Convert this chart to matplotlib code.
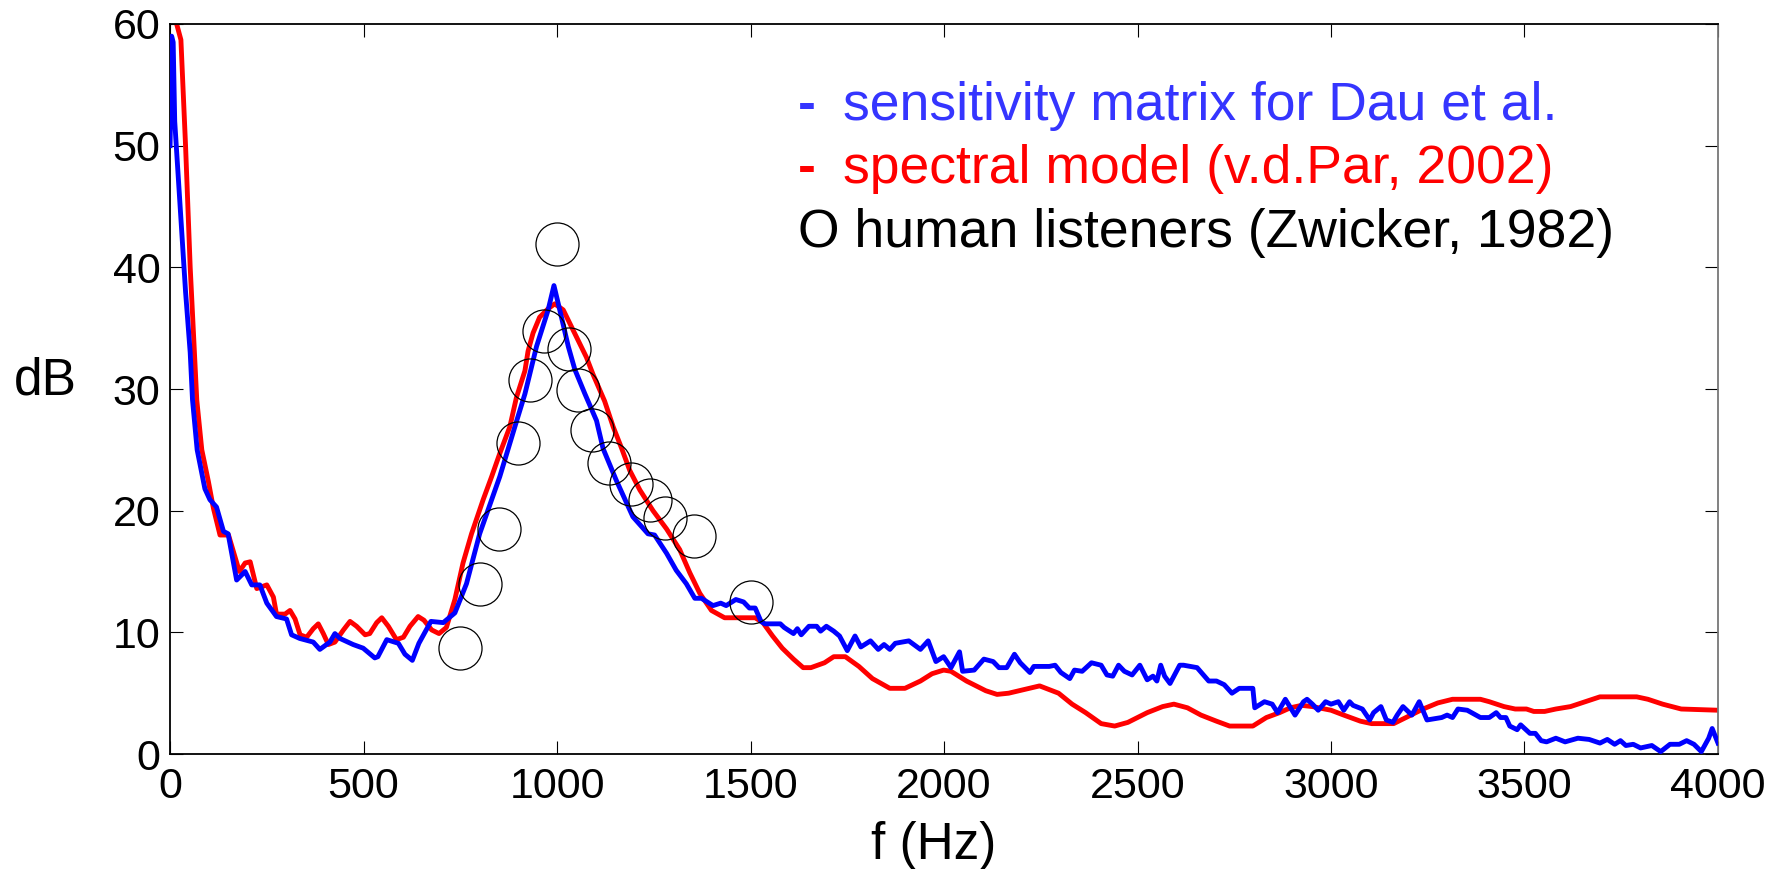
import numpy as np
import matplotlib
matplotlib.use('Agg')
import matplotlib.pyplot as plt

plt.rcParams['font.family'] = ['Liberation Sans', 'DejaVu Sans']

# sensitivity matrix for Dau et al. (blue)
f_dau = [0, 4, 8, 12, 30, 40, 52, 58, 70, 90, 103, 120, 138, 150, 172, 194, 211, 232, 250, 275,
         301, 314, 335, 370, 387, 413, 426, 439, 473, 499, 529, 537, 560, 590, 607, 626, 643, 674,
         706, 736, 766, 800, 852, 891, 917, 947, 977, 992, 1007, 1029, 1046, 1072, 1102, 1119,
         1153, 1196, 1235, 1252, 1283, 1308, 1334, 1356, 1373, 1403, 1423, 1437, 1462, 1482,
         1497, 1512, 1527, 1537, 1577, 1587, 1611, 1621, 1631, 1651, 1671, 1681, 1696, 1715,
         1730, 1750, 1770, 1785, 1810, 1830, 1845, 1860, 1874, 1909, 1939, 1959, 1979, 1999,
         2018, 2040, 2048, 2078, 2103, 2127, 2142, 2162, 2182, 2197, 2222, 2232, 2272, 2287,
         2302, 2325, 2337, 2357, 2381, 2406, 2421, 2436, 2451, 2466, 2486, 2506, 2525, 2540,
         2550, 2560, 2570, 2584, 2609, 2619, 2654, 2684, 2704, 2724, 2744, 2763, 2798, 2803,
         2828, 2848, 2862, 2882, 2907, 2929, 2938, 2952, 2967, 2986, 3000, 3019, 3033, 3048,
         3057, 3081, 3100, 3110, 3129, 3143, 3160, 3171, 3186, 3209, 3228, 3248, 3286, 3300,
         3314, 3328, 3352, 3386, 3409, 3427, 3438, 3452, 3462, 3481, 3490, 3514, 3528, 3543,
         3557, 3581, 3605, 3638, 3667, 3695, 3714, 3733, 3748, 3762, 3781, 3800, 3829, 3852,
         3876, 3900, 3919, 3938, 3957, 3976, 3985, 4000]
db_dau = [50, 59, 58.5, 52, 43, 38, 33, 29.1, 25, 21.8, 20.9, 20.3, 18.3, 18.1, 14.3, 15.0, 13.9,
          13.9, 12.4, 11.3, 11.1, 9.8, 9.5, 9.2, 8.6, 9.2, 9.9, 9.5, 9.0, 8.7, 7.9, 8.0, 9.4, 9.1,
          8.2, 7.7, 9.1, 10.9, 10.8, 11.6, 14.0, 18.1, 22.8, 26.9, 29.6, 33.5, 36.5, 38.5, 36.5,
          33.5, 31.6, 29.6, 27.4, 25.1, 22.5, 19.5, 18.1, 18.0, 16.5, 15.1, 14.0, 12.8, 12.8,
          12.2, 12.4, 12.2, 12.7, 12.5, 12.0, 12.0, 10.9, 10.7, 10.7, 10.4, 9.9, 10.3, 9.8, 10.5,
          10.5, 10.1, 10.5, 10.1, 9.7, 8.5, 9.7, 8.8, 9.3, 8.6, 9.0, 8.6, 9.1, 9.3, 8.6, 9.3, 7.6,
          8.0, 7.1, 8.4, 6.8, 6.9, 7.8, 7.6, 7.1, 7.1, 8.2, 7.5, 6.7, 7.2, 7.2, 7.3, 6.7, 6.2,
          6.9, 6.8, 7.5, 7.3, 6.5, 6.4, 7.3, 6.8, 6.5, 7.3, 6.1, 6.4, 6.0, 7.3, 6.4, 5.8, 7.3,
          7.3, 7.1, 6.0, 6.0, 5.7, 5.0, 5.4, 5.4, 3.8, 4.3, 4.1, 3.4, 4.5, 3.2, 4.3, 4.5, 4.1,
          3.6, 4.3, 4.1, 4.3, 3.6, 4.3, 4.0, 3.7, 2.8, 3.4, 3.9, 2.8, 2.6, 3.2, 3.9, 3.2, 4.3,
          2.8, 3.0, 3.2, 3.0, 3.7, 3.6, 3.0, 3.0, 3.4, 3.0, 3.0, 2.3, 2.0, 2.4, 1.7, 1.7, 1.1,
          1.0, 1.3, 1.0, 1.3, 1.2, 0.9, 1.2, 0.8, 1.1, 0.7, 0.8, 0.5, 0.7, 0.2, 0.8, 0.8, 1.1,
          0.8, 0.2, 1.3, 2.1, 0.9]

# spectral model (v.d.Par, 2002) (red)
f_par = [10, 17, 28, 40, 52, 69, 82, 99, 112, 129, 151, 164, 179, 194, 207, 224, 250, 267, 275,
         297, 310, 323, 336, 353, 370, 383, 396, 409, 426, 448, 465, 482, 504, 516, 534, 547, 564,
         585, 603, 620, 641, 656, 676, 695, 714, 736, 757, 779, 809, 831, 852, 878, 895, 917, 925,
         938, 955, 977, 994, 1016, 1033, 1059, 1076, 1093, 1123, 1145, 1166, 1188, 1214, 1248,
         1283, 1317, 1343, 1369, 1399, 1433, 1512, 1532, 1557, 1582, 1611, 1636, 1656, 1691,
         1715, 1745, 1780, 1815, 1860, 1899, 1939, 1969, 1999, 2018, 2058, 2108, 2137, 2167,
         2207, 2247, 2296, 2331, 2366, 2406, 2441, 2475, 2525, 2565, 2594, 2629, 2664, 2704,
         2738, 2798, 2833, 2867, 2895, 2924, 2952, 3000, 3033, 3076, 3105, 3162, 3200, 3238,
         3276, 3314, 3386, 3409, 3447, 3476, 3505, 3524, 3552, 3581, 3619, 3657, 3695, 3790,
         3819, 3857, 3905, 4000]
db_par = [64, 60, 58.7, 50, 40, 29.1, 25.0, 22.4, 20.2, 18.0, 18.0, 16.6, 15.0, 15.7, 15.8, 13.6,
          13.9, 12.9, 11.5, 11.5, 11.8, 11.1, 9.8, 9.6, 10.3, 10.7, 9.9, 9.0, 9.2, 10.2, 10.9,
          10.5, 9.8, 9.9, 10.8, 11.2, 10.5, 9.4, 9.6, 10.5, 11.3, 11.0, 10.2, 9.9, 10.4, 12.7,
          15.7, 18.1, 20.9, 22.8, 24.7, 26.9, 29.3, 31.5, 33.1, 34.6, 35.9, 36.6, 37.0, 36.5,
          35.4, 33.7, 32.6, 31.2, 29.0, 26.9, 25.2, 23.3, 21.7, 20.0, 18.5, 16.8, 14.9, 13.2,
          11.8, 11.2, 11.2, 10.8, 9.7, 8.7, 7.8, 7.1, 7.1, 7.5, 8.0, 8.0, 7.2, 6.2, 5.4, 5.4,
          6.0, 6.6, 6.9, 6.8, 6.0, 5.2, 4.9, 5.0, 5.3, 5.6, 5.0, 4.1, 3.4, 2.5, 2.3, 2.6, 3.4,
          3.9, 4.1, 3.8, 3.2, 2.7, 2.3, 2.3, 3.0, 3.4, 3.8, 4.0, 3.9, 3.6, 3.2, 2.7, 2.5, 2.5,
          3.1, 3.7, 4.2, 4.5, 4.5, 4.3, 3.9, 3.7, 3.7, 3.5, 3.5, 3.7, 3.9, 4.3, 4.7, 4.7, 4.5,
          4.1, 3.7, 3.6]

# human listeners (Zwicker, 1982)
f_zw = [750, 800, 850, 900, 930, 965, 1000, 1030, 1055, 1090, 1135, 1190, 1240, 1280, 1355, 1500]
db_zw = [8.7, 14.0, 18.5, 25.6, 30.7, 34.8, 41.9, 33.3, 29.9, 26.6, 23.9, 22.2, 20.9, 19.4, 17.9, 12.5]

legend_lines = ['sensitivity matrix for Dau et al.', 'spectral model (v.d.Par, 2002)',
                'O human listeners (Zwicker, 1982)']

fig = plt.figure(figsize=(17.79, 8.69), dpi=100)
ax = fig.add_axes([0.0956, 0.1323, 0.8701, 0.8401])

ax.plot(f_zw, db_zw, 'o', mfc='none', mec='k', mew=0.9, ms=31, zorder=4)
ax.plot(f_par, db_par, color='r', lw=3.5, zorder=2)
ax.plot(f_dau, db_dau, color='b', lw=3.5, zorder=3)

ax.set_xlim(0, 4000)
ax.set_ylim(0, 60)
ax.set_xticks(np.arange(0, 4001, 500))
ax.set_yticks(np.arange(0, 61, 10))
ax.tick_params(direction='in', length=9.5, width=0.8, top=True, right=True,
               labelsize=31)
ax.tick_params(axis='x', pad=9)
ax.tick_params(axis='y', pad=7)
for s in ax.spines.values():
    s.set_linewidth(1.3)
ax.spines['right'].set_color('#777777')

ax.set_xlabel('f (Hz)', fontsize=37, va='baseline')
ax.xaxis.set_label_coords(0.4935, -0.1438)
ax.set_ylabel('dB', fontsize=37, rotation=0, ha='left', va='baseline')
ax.yaxis.set_label_coords(-0.1008, 0.4918)

tx = 0.4057
fs = 38.5
ax.text(tx, 0.8685, '-', color='#3535ff', fontsize=fs, fontweight='bold',
        transform=ax.transAxes, va='baseline')
ax.text(0.435, 0.8685, legend_lines[0], color='#3535ff',
        fontsize=fs, transform=ax.transAxes, va='baseline')
ax.text(tx, 0.782, '-', color='#ff0000', fontsize=fs, fontweight='bold',
        transform=ax.transAxes, va='baseline')
ax.text(0.435, 0.782, legend_lines[1], color='#ff0000',
        fontsize=fs, transform=ax.transAxes, va='baseline')
ax.text(tx, 0.6945, legend_lines[2], color='k',
        fontsize=fs, transform=ax.transAxes, va='baseline')

fig.savefig('out.png', dpi=100)
